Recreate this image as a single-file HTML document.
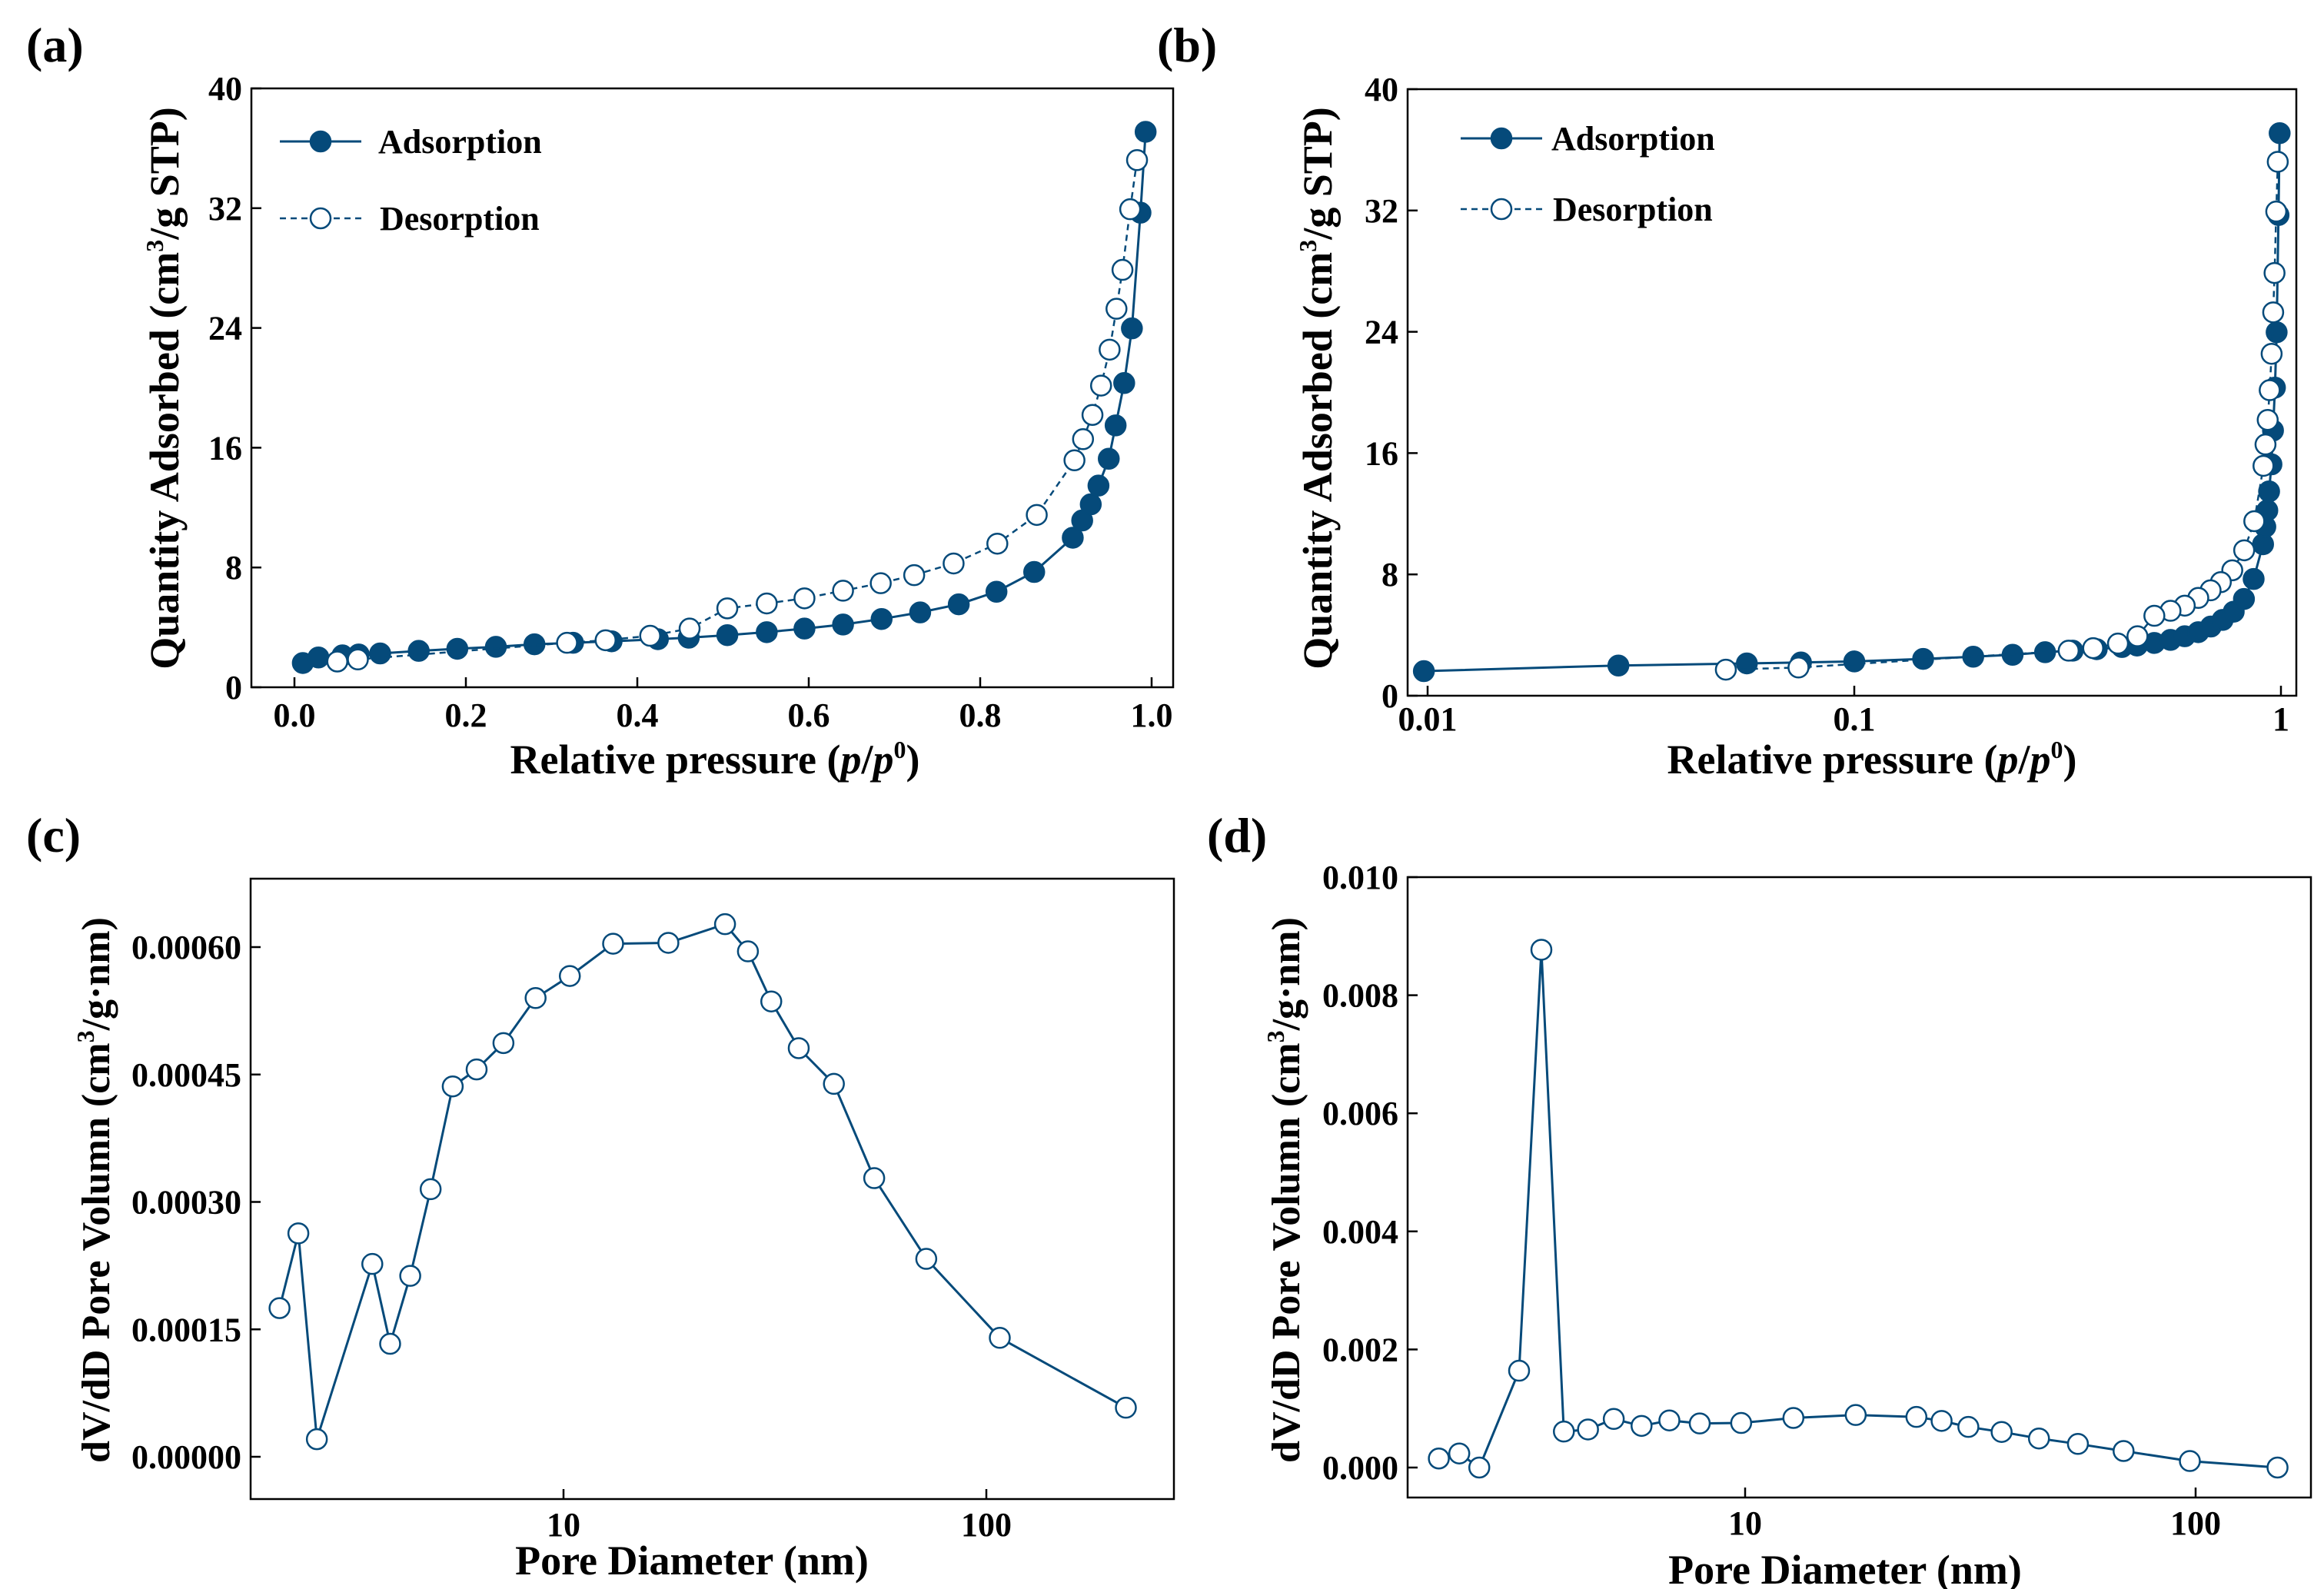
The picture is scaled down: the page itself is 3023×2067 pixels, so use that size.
<!DOCTYPE html>
<html><head><meta charset="utf-8"><style>
html,body{margin:0;padding:0;background:#fff;}
svg{display:block;font-family:"Liberation Serif",serif;font-weight:bold;}
</style></head><body>
<svg id="fig" width="3023" height="2067" viewBox="0 0 3023 2067" xmlns="http://www.w3.org/2000/svg"></svg>
<script>
const adsX=[0.0098,0.028,0.056,0.075,0.100,0.145,0.190,0.235,0.280,0.325,0.370,0.424,0.460,0.505,0.551,0.595,0.640,0.685,0.730,0.775,0.819,0.863,0.908,0.919,0.929,0.938,0.950,0.958,0.968,0.977,0.987,0.993];
const adsY=[1.62,1.99,2.13,2.19,2.26,2.43,2.57,2.70,2.87,2.97,3.07,3.21,3.31,3.48,3.68,3.92,4.19,4.56,5.00,5.54,6.38,7.70,9.99,11.14,12.22,13.47,15.26,17.49,20.32,23.97,31.70,37.10];
const desX=[0.983,0.975,0.966,0.959,0.951,0.941,0.931,0.920,0.910,0.866,0.820,0.769,0.723,0.684,0.640,0.595,0.551,0.505,0.461,0.415,0.363,0.318,0.074,0.050];
const desY=[35.21,31.93,27.88,25.28,22.55,20.15,18.19,16.57,15.16,11.51,9.59,8.27,7.49,6.95,6.45,5.94,5.60,5.27,3.92,3.44,3.14,2.97,1.86,1.72];
const cD=[2.13,2.36,2.61,3.53,3.89,4.34,4.85,5.47,6.23,7.21,8.59,10.35,13.1,17.7,24.1,27.3,31.0,36.0,43.6,54.3,72.1,107.6,213.8];
const cV=[0.000175,0.000263,0.0000207,0.000227,0.000133,0.000213,0.000315,0.000436,0.000456,0.000487,0.000540,0.000566,0.000604,0.000605,0.000627,0.000595,0.000536,0.000481,0.000439,0.000328,0.000233,0.000140,0.0000578];
const dD=[2.09,2.32,2.57,3.15,3.53,3.96,4.48,5.11,5.89,6.79,7.93,9.8,12.8,17.6,24.0,27.3,31.3,37.1,44.9,54.8,69.2,97.1,152];
const dV=[0.000153,0.000238,0,0.00164,0.00877,0.00061,0.000645,0.000823,0.000705,0.000798,0.000747,0.000755,0.00084,0.00089,0.000857,0.00079,0.000688,0.000603,0.000492,0.0004,0.00028,0.00011,0];
const aXTicks=[0,0.2,0.4,0.6,0.8,1.0];
const aXLabels=["0.0","0.2","0.4","0.6","0.8","1.0"];
const isoYTicks=[0,8,16,24,32,40];
const bXTicks=[0.01,0.1,1];
const bXLabels=["0.01","0.1","1"];
const cYTicks=[0,0.00015,0.0003,0.00045,0.0006];
const cYLabels=["0.00000","0.00015","0.00030","0.00045","0.00060"];
const dYTicks=[0,0.002,0.004,0.006,0.008,0.010];
const dYLabels=["0.000","0.002","0.004","0.006","0.008","0.010"];
const poreXTicks=[10,100];

const C="#054a7a";
const svg=document.getElementById('fig');
const NS="http://www.w3.org/2000/svg";
function el(tag,attrs,parent,text){const e=document.createElementNS(NS,tag);for(const k in attrs)e.setAttribute(k,attrs[k]);if(text!==undefined)e.textContent=text;(parent||svg).appendChild(e);return e;}
function lin(d0,d1,r0,r1){return v=>r0+(v-d0)/(d1-d0)*(r1-r0);}
function lg(d0,d1,r0,r1){return v=>r0+(Math.log10(v)-Math.log10(d0))/(Math.log10(d1)-Math.log10(d0))*(r1-r0);}

function frame(g,L,T,R,B){const f=el('rect',{x:L,y:T,width:R-L,height:B-T,fill:'none',stroke:'#000','stroke-width':2.5},g);

}
function xTick(g,x,B,label,ly){const t=el('line',{x1:x,x2:x,y1:B,y2:B-13,stroke:'#000','stroke-width':2.5},g);


const s=el('text',{x:x,y:ly,'text-anchor':'middle','font-size':44},g,label);

}
function yTick(g,y,L,label){const t=el('line',{x1:L,x2:L+13,y1:y,y2:y,stroke:'#000','stroke-width':2.5},g);


const s=el('text',{x:L-12,y:y+15,'text-anchor':'end','font-size':44},g,label);

}
function series(g,xs,ys,sx,sy,filled,dashed,name){
 let d='';xs.forEach((v,i)=>{d+=(i?'L':'M')+sx(v).toFixed(1)+','+sy(ys[i]).toFixed(1);});
 const p=el('path',{d:d,fill:'none',stroke:C,'stroke-width':dashed?2.5:3,'stroke-dasharray':dashed?'8,6':'none'},g);
 
 
 xs.forEach((v,i)=>{const c=el('circle',{cx:sx(v),cy:sy(ys[i]),r:13,fill:filled?C:'#fff',stroke:C,'stroke-width':2.5},g);
 
 });
}
function title(g,x,y,txt,rot,size,name){const t=el('text',{x:x,y:y,'text-anchor':'middle','font-size':size||46,transform:rot?`rotate(-90 ${x} ${y})`:''},g);t.innerHTML=txt;

return t;}
function panelLabel(x,y,t){const s=el('text',{x:x,y:y,'font-size':64},svg,t);

}
function legend(g,x0,y1,y2,tx){
 const e1=el('g',{},g);
 
 
 el('line',{x1:x0,x2:x0+106,y1:y1,y2:y1,stroke:C,'stroke-width':3},e1);
 el('circle',{cx:x0+53,cy:y1,r:13,fill:C,stroke:C,'stroke-width':2.5},e1);
 el('text',{x:x0+tx,y:y1+15,'font-size':44},e1,'Adsorption');
 const e2=el('g',{},g);
 
 
 el('line',{x1:x0,x2:x0+106,y1:y2,y2:y2,stroke:C,'stroke-width':2.5,'stroke-dasharray':'8,6'},e2);
 el('circle',{cx:x0+53,cy:y2,r:13,fill:'#fff',stroke:C,'stroke-width':2.5},e2);
 el('text',{x:x0+tx+2,y:y2+15,'font-size':44},e2,'Desorption');
}
const isoTitleX='Relative pressure (<tspan font-style="italic">p</tspan>/<tspan font-style="italic">p</tspan><tspan dy="-20" font-size="32">0</tspan><tspan dy="20">)</tspan>';
const isoTitleY='Quantity Adsorbed (cm<tspan dy="-20" font-size="32">3</tspan><tspan dy="20">/g STP)</tspan>';
const poreTitleY='dV/dD Pore Volumn (cm<tspan dy="-20" font-size="32">3</tspan><tspan dy="20">/g·nm)</tspan>';

// Panel (a)
(function(){const g=el('g',{});


const L=327,R=1526,T=115,B=894;const sx=lin(0,1,383,1498),sy=lin(0,40,B,T);
frame(g,L,T,R,B);
aXTicks.forEach((v,i)=>xTick(g,sx(v),B,aXLabels[i],945));
isoYTicks.forEach(v=>yTick(g,sy(v),L,String(v)));
series(g,adsX,adsY,sx,sy,true,false,'adsorption');
series(g,desX,desY,sx,sy,false,true,'desorption');
legend(g,364,184,284,128);
title(g,930,1006,isoTitleX,false,54,'x-axis-title');
title(g,232,505,isoTitleY,true,54,'y-axis-title');
})();
panelLabel(34,80,'(a)');

// Panel (b)
(function(){const g=el('g',{});


const L=1831,R=2987,T=116,B=905;const sx=lg(0.01,1,1857,2967),sy=lin(0,40,B,T);
frame(g,L,T,R,B);
bXTicks.forEach((v,i)=>xTick(g,sx(v),B,bXLabels[i],950));
isoYTicks.forEach(v=>yTick(g,sy(v),L,String(v)));
series(g,adsX,adsY,sx,sy,true,false,'adsorption');
series(g,desX,desY,sx,sy,false,true,'desorption');
legend(g,1900,180,272,118);
title(g,2435,1006,isoTitleX,false,54,'x-axis-title');
title(g,1732,505,isoTitleY,true,54,'y-axis-title');
})();
panelLabel(1505,80,'(b)');

// Panel (c)
(function(){const g=el('g',{});


const L=326,R=1527,T=1143,B=1950;const sx=lg(10,100,733,1283),sy=lin(0,0.0006,1895,1232);
frame(g,L,T,R,B);
poreXTicks.forEach(v=>xTick(g,sx(v),B,String(v),1998));
cYTicks.forEach((v,i)=>yTick(g,sy(v),L,cYLabels[i]));
series(g,cD,cV,sx,sy,false,false,'pore-volume');
title(g,900,2048,'Pore Diameter (nm)',false,54,'x-axis-title');
title(g,142,1548,poreTitleY,true,52,'y-axis-title');
})();
panelLabel(34,1108,'(c)');

// Panel (d)
(function(){const g=el('g',{});


const L=1831,R=3006,T=1141,B=1948;const sx=lg(10,100,2270,2856),sy=lin(0,0.010,1909,1141);
frame(g,L,T,R,B);
poreXTicks.forEach(v=>xTick(g,sx(v),B,String(v),1996));
dYTicks.forEach((v,i)=>yTick(g,sy(v),L,dYLabels[i]));
series(g,dD,dV,sx,sy,false,false,'pore-volume');
title(g,2400,2060,'Pore Diameter (nm)',false,54,'x-axis-title');
title(g,1690,1548,poreTitleY,true,52,'y-axis-title');
})();
panelLabel(1570,1108,'(d)');
</script>
</body></html>
